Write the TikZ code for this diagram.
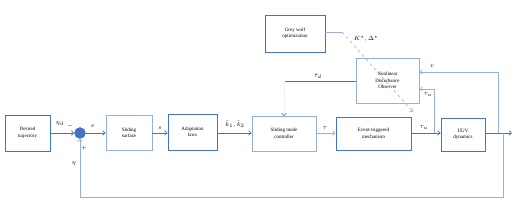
\documentclass[tikz,border=0pt]{standalone}
\usepackage{fontspec}
\setmainfont{Liberation Serif}
\usetikzlibrary{arrows.meta}
\definecolor{bl}{RGB}{68,114,196}
\definecolor{lbl}{RGB}{150,175,225}
\begin{document}
\begin{tikzpicture}[x=1pt,y=-1pt,
  blk/.style={draw=bl,line width=0.8pt,fill=white,align=center,inner sep=0pt,
    font=\fontsize{5}{6.5}\selectfont},
  conn/.style={draw=bl,line width=0.7pt,-{Straight Barb[length=2.5pt,width=4.5pt]}},
  line/.style={draw=bl,line width=0.7pt},
  lab/.style={font=\fontsize{6.5}{7}\selectfont,inner sep=0pt}]
\useasboundingbox (0,0) rectangle (520,216);
\node[blk,minimum width=45pt,minimum height=36pt] (dt) at (27.5,133) {Desired\\trajectory};
\node[circle,fill=bl,draw=bl,minimum size=11pt,inner sep=0pt] (sum) at (80,133) {};
\node[blk,draw=lbl,minimum width=46pt,minimum height=35pt] (ss) at (129,133) {Sliding\\surface};
\node[blk,minimum width=49pt,minimum height=36pt] (al) at (192.5,132) {Adaptation\\laws};
\node[blk,draw=lbl,minimum width=64pt,minimum height=35pt] (smc) at (284,133.5) {Sliding mode\\controller};
\node[blk,minimum width=75pt,minimum height=33pt] (etm) at (373.5,133.5) {Event-triggered\\mechanism};
\node[blk,minimum width=44pt,minimum height=33pt] (uuv) at (463,134.5) {UUV\\dynamics};
\node[blk,minimum width=60pt,minimum height=37pt] (gwo) at (295,33.5) {Grey wolf\\optimization};
\node[blk,draw=lbl,minimum width=63pt,minimum height=45pt] (ndo) at (387.5,80.5) {Nonlinear\\Disturbance\\Observer};
% main path
\draw[conn] (dt.east |- 0,133) -- (sum.west);
\draw[conn] (sum.east) -- (ss.west |- 0,133);
\draw[conn] (ss.east |- 0,133) -- (al.west |- 0,133);
\draw[conn] (al.east |- 0,133) -- (smc.west |- 0,133);
\draw[conn,draw=lbl] (smc.east |- 0,133) -- (etm.west |- 0,133);
\draw[conn] (etm.east |- 0,133) -- (uuv.west |- 0,133);
\coordinate (out) at (512,133);
\coordinate (br) at (503,133);
\draw[conn] (uuv.east |- 0,133) -- (out);
\draw[line,draw=lbl] (br) -- (503,197) -- (80,197);
\draw[conn,draw=lbl] (80,197) -- (sum.south);
% v feedback
\coordinate (vb) at (498,133);
\draw[conn,draw=lbl] (vb) -- (498,72) -- (ndo.east |- 0,72);
% tau_u feedback
\coordinate (tb) at (434,133);
\draw[conn,draw=lbl] (tb) -- (434,89) -- (ndo.east |- 0,89);
% tau_d hat
\draw[line] (ndo.west |- 0,81) -- (284,81);
\draw[conn,draw=bl!8] (284,81) -- (smc.north);
\draw[draw=bl,line width=0.5pt] (281.5,113) -- (284,115.5) -- (286.5,113);
% GWO dashed
\draw[line,draw=lbl] (gwo.east |- 0,32) -- (342,32);
\draw[conn,dashed,draw=lbl,line width=0.6pt] (342,32) -- (413,112);
% labels
\node[lab] at (60,124) {$\eta_d$};
\node[lab] at (70,126) {$-$};
\node[lab] at (93,126) {$e$};
\node[lab] at (160,128) {$s$};
\node[lab] at (235,124) {$\hat{k}_1{,}\,\hat{k}_2$};
\node[lab] at (325,128) {$\tau$};
\node[lab] at (424,128) {$\tau_u$};
\node[lab] at (74,164) {$\eta$};
\node[lab] at (84,148) {$+$};
\node[lab] at (432,66) {$v$};
\node[lab] at (428,95) {$\tau_u$};
\node[lab] at (318,76) {$\hat{\tau}_d$};
\node[lab] at (366,39) {$K^*,\Delta^*$};
\end{tikzpicture}
\end{document}
